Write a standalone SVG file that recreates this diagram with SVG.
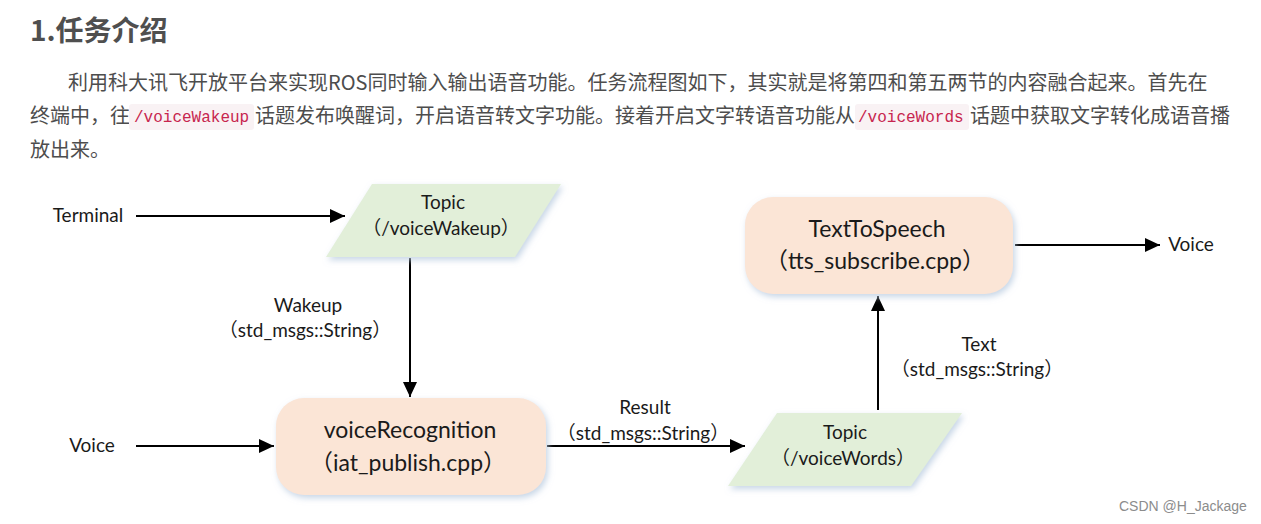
<svg xmlns="http://www.w3.org/2000/svg" width="1261" height="524" viewBox="0 0 1261 524">
<style>
.title{font-family:"Noto Sans CJK SC","Noto Sans",sans-serif;font-size:28px;font-weight:bold;fill:#4f4f4f}
.para{font-family:"Noto Sans CJK SC","Noto Sans",sans-serif;font-size:20px;fill:#4d4d4d}
.code{font-family:"Liberation Mono",monospace;font-size:16px;fill:#c7254e}
.codebg{fill:#f9f2f4}
.lbl{font-family:"Lato","Noto Sans CJK SC",sans-serif;font-size:19px;fill:#1a1a1a;text-anchor:middle}
.big{font-family:"Lato","Noto Sans CJK SC",sans-serif;font-size:23px;fill:#1a1a1a;text-anchor:middle}
.topic{fill:#e2efd9;filter:url(#sh)}
.proc{fill:#fbe5d6;filter:url(#sh)}
.ln{stroke:#000;stroke-width:2;fill:none}
.wm{font-family:"Liberation Sans",sans-serif;font-size:14px;fill:#8c8c8c}
</style>
<defs>
<filter id="sh" x="-10%" y="-10%" width="125%" height="130%">
<feDropShadow dx="2" dy="3" stdDeviation="3" flood-color="#b9cbe0" flood-opacity="0.8"/>
</filter>
<marker id="ah" viewBox="0 0 10 10" refX="10" refY="5" markerWidth="15" markerHeight="14" markerUnits="userSpaceOnUse" orient="auto" preserveAspectRatio="none">
<path d="M0,0 L10,5 L0,10 z" fill="#000"/>
</marker>
</defs>
<rect width="1261" height="524" fill="#fff"/>
<text class="title" x="30" y="41">1.任务介绍</text>
<text class="para" x="68" y="90">利用科大讯飞开放平台来实现ROS同时输入输出语音功能。任务流程图如下，其实就是将第四和第五两节的内容融合起来。首先在</text>
<text class="para" x="30" y="123">终端中，往</text>
<rect class="codebg" x="129" y="104" width="125" height="26" rx="3"/>
<text class="code" x="134" y="122">/voiceWakeup</text>
<text class="para" x="255" y="123">话题发布唤醒词，开启语音转文字功能。接着开启文字转语音功能从</text>
<rect class="codebg" x="855" y="104" width="114" height="26" rx="3"/>
<text class="code" x="858" y="122">/voiceWords</text>
<text class="para" x="970" y="123">话题中获取文字转化成语音播</text>
<text class="para" x="30" y="157">放出来。</text>

<g id="connectors">
<line class="ln" x1="136" y1="216" x2="345" y2="216" marker-end="url(#ah)"/>
<line class="ln" x1="410" y1="258" x2="410" y2="397" marker-end="url(#ah)"/>
<line class="ln" x1="136" y1="446" x2="274" y2="446" marker-end="url(#ah)"/>
<line class="ln" x1="547" y1="446" x2="745" y2="446" marker-end="url(#ah)"/>
<line class="ln" x1="878" y1="410" x2="878" y2="296" marker-end="url(#ah)"/>
<line class="ln" x1="1015" y1="245" x2="1160" y2="245" marker-end="url(#ah)"/>
<text class="lbl" x="308" y="312">Wakeup</text>
<text class="lbl" x="305" y="337">（std_msgs::String）</text>
<text class="lbl" x="645" y="414">Result</text>
<text class="lbl" x="643" y="440">（std_msgs::String）</text>
<text class="lbl" x="979" y="351">Text</text>
<text class="lbl" x="977" y="376">（std_msgs::String）</text>
</g>

<g id="terminal"><text class="lbl" x="88" y="222">Terminal</text></g>
<g id="voice-in"><text class="lbl" x="92" y="452">Voice</text></g>
<g id="voice-out"><text class="lbl" x="1191" y="251">Voice</text></g>

<g id="topic-wakeup">
<polygon class="topic" points="372,184 561,184 515,257 326,257"/>
<text class="lbl" x="443" y="209">Topic</text>
<text class="lbl" x="441" y="235">（/voiceWakeup）</text>
</g>

<g id="voiceRecognition">
<rect class="proc" x="276" y="398" width="270" height="97" rx="28"/>
<text class="big" x="410" y="438">voiceRecognition</text>
<text class="big" x="408" y="471">（iat_publish.cpp）</text>
</g>

<g id="topic-words">
<polygon class="topic" points="777,413 962,413 911,486 728,486"/>
<text class="lbl" x="845" y="439">Topic</text>
<text class="lbl" x="843" y="465">（/voiceWords）</text>
</g>

<g id="textToSpeech">
<rect class="proc" x="745" y="197" width="268" height="97" rx="28"/>
<text class="big" x="877" y="237">TextToSpeech</text>
<text class="big" x="875" y="269">（tts_subscribe.cpp）</text>
</g>

<text class="wm" x="1119" y="511">CSDN @H_Jackage</text>
</svg>
